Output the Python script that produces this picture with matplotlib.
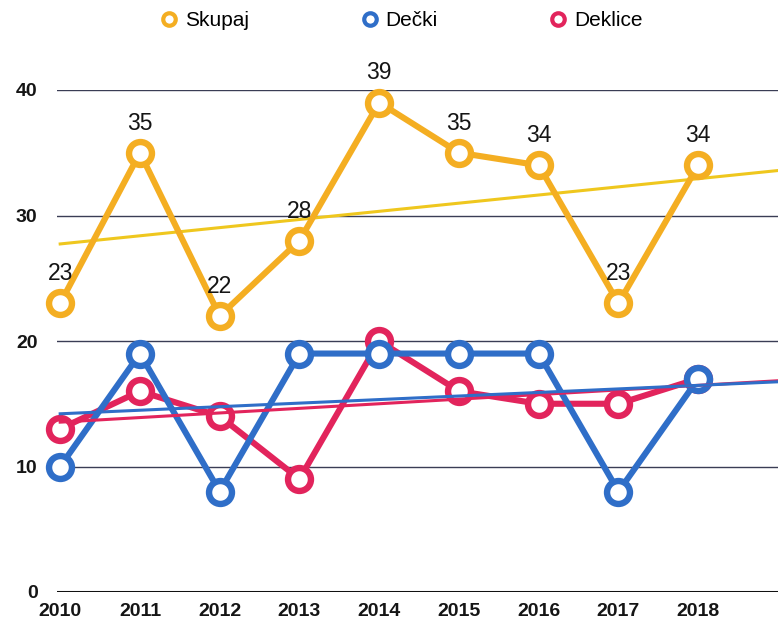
import numpy as np
import matplotlib
matplotlib.use("Agg")
import matplotlib.pyplot as plt
from matplotlib.lines import Line2D

plt.rcParams['font.family'] = ['Liberation Sans', 'DejaVu Sans']

years = [2010, 2011, 2012, 2013, 2014, 2015, 2016, 2017, 2018]
skupaj = [23, 35, 22, 28, 39, 35, 34, 23, 34]
decki = [10, 19, 8, 19, 19, 19, 19, 8, 17]
deklice = [13, 16, 14, 9, 20, 16, 15, 15, 17]
series_names = ["Skupaj", "Dečki", "Deklice"]
y_ticks = [0, 10, 20, 30, 40]

c_orange = "#F4AE22"
c_trend_orange = "#EFC71E"
c_blue = "#2F6EC8"
c_pink = "#E2245C"

fig = plt.figure(figsize=(7.78, 6.21), dpi=100)
ax = fig.add_axes([57 / 778, 1 - 592 / 621, 1 - 57 / 778, (592 - 90) / 621])

# gridlines
for v in y_ticks[1:]:
    ax.axhline(v, color="#3a3d55", lw=1.0, zorder=1)
ax.axhline(0, color="#111111", lw=2.2, zorder=1)

x = np.array(years, dtype=float)
x_trend = np.array([2010, 2019], dtype=float)

def trend(vals):
    k, b = np.polyfit(x, vals, 1)
    return k * x_trend + b

# trend lines
ax.plot(x_trend, trend(skupaj), color=c_trend_orange, lw=2.2, zorder=2)

# series
mk = dict(marker="o", ms=16.5, mfc="white", mew=4.6, lw=4.4, clip_on=False)
ax.plot(years, deklice, color=c_pink, mec=c_pink, zorder=3, **mk)
ax.plot(years, decki, color=c_blue, mec=c_blue, zorder=4, **mk)
ax.plot(x_trend, trend(deklice), color=c_pink, lw=2.2, zorder=5)
ax.plot(x_trend, trend(decki), color=c_blue, lw=2.2, zorder=5)
ax.plot(years, skupaj, color=c_orange, mec=c_orange, zorder=6, **mk)

for xi, v in zip(years, skupaj):
    ax.annotate(str(v), (xi, v), xytext=(0, 13), textcoords="offset points",
                ha="center", va="bottom", fontsize=16.5, color="#151515",
                zorder=7, annotation_clip=False)

ax.set_xlim(2009.96, 2019.0)
ax.set_ylim(0, 40)
ax.set_xticks(years)
ax.set_xticklabels([str(y) for y in years], fontsize=14, fontweight="bold", color="#151515")
ax.set_yticks(y_ticks)
ax.set_yticklabels([str(v) for v in y_ticks], fontsize=14, fontweight="bold", color="#151515")
ax.tick_params(axis="both", length=0)
ax.tick_params(axis="x", pad=8)
ax.tick_params(axis="y", pad=14)
for s in ax.spines.values():
    s.set_visible(False)

# legend
handles = [Line2D([], [], ls="none", marker="o", ms=9, mfc="white", mec=c, mew=3)
           for c in (c_orange, c_blue, c_pink)]
fig.legend(handles, series_names, loc="upper center", bbox_to_anchor=(0.515, 1.012),
           ncol=3, frameon=False, fontsize=15, handletextpad=0.25,
           columnspacing=5.3, handlelength=1.0)

fig.savefig("out.png", dpi=100)
